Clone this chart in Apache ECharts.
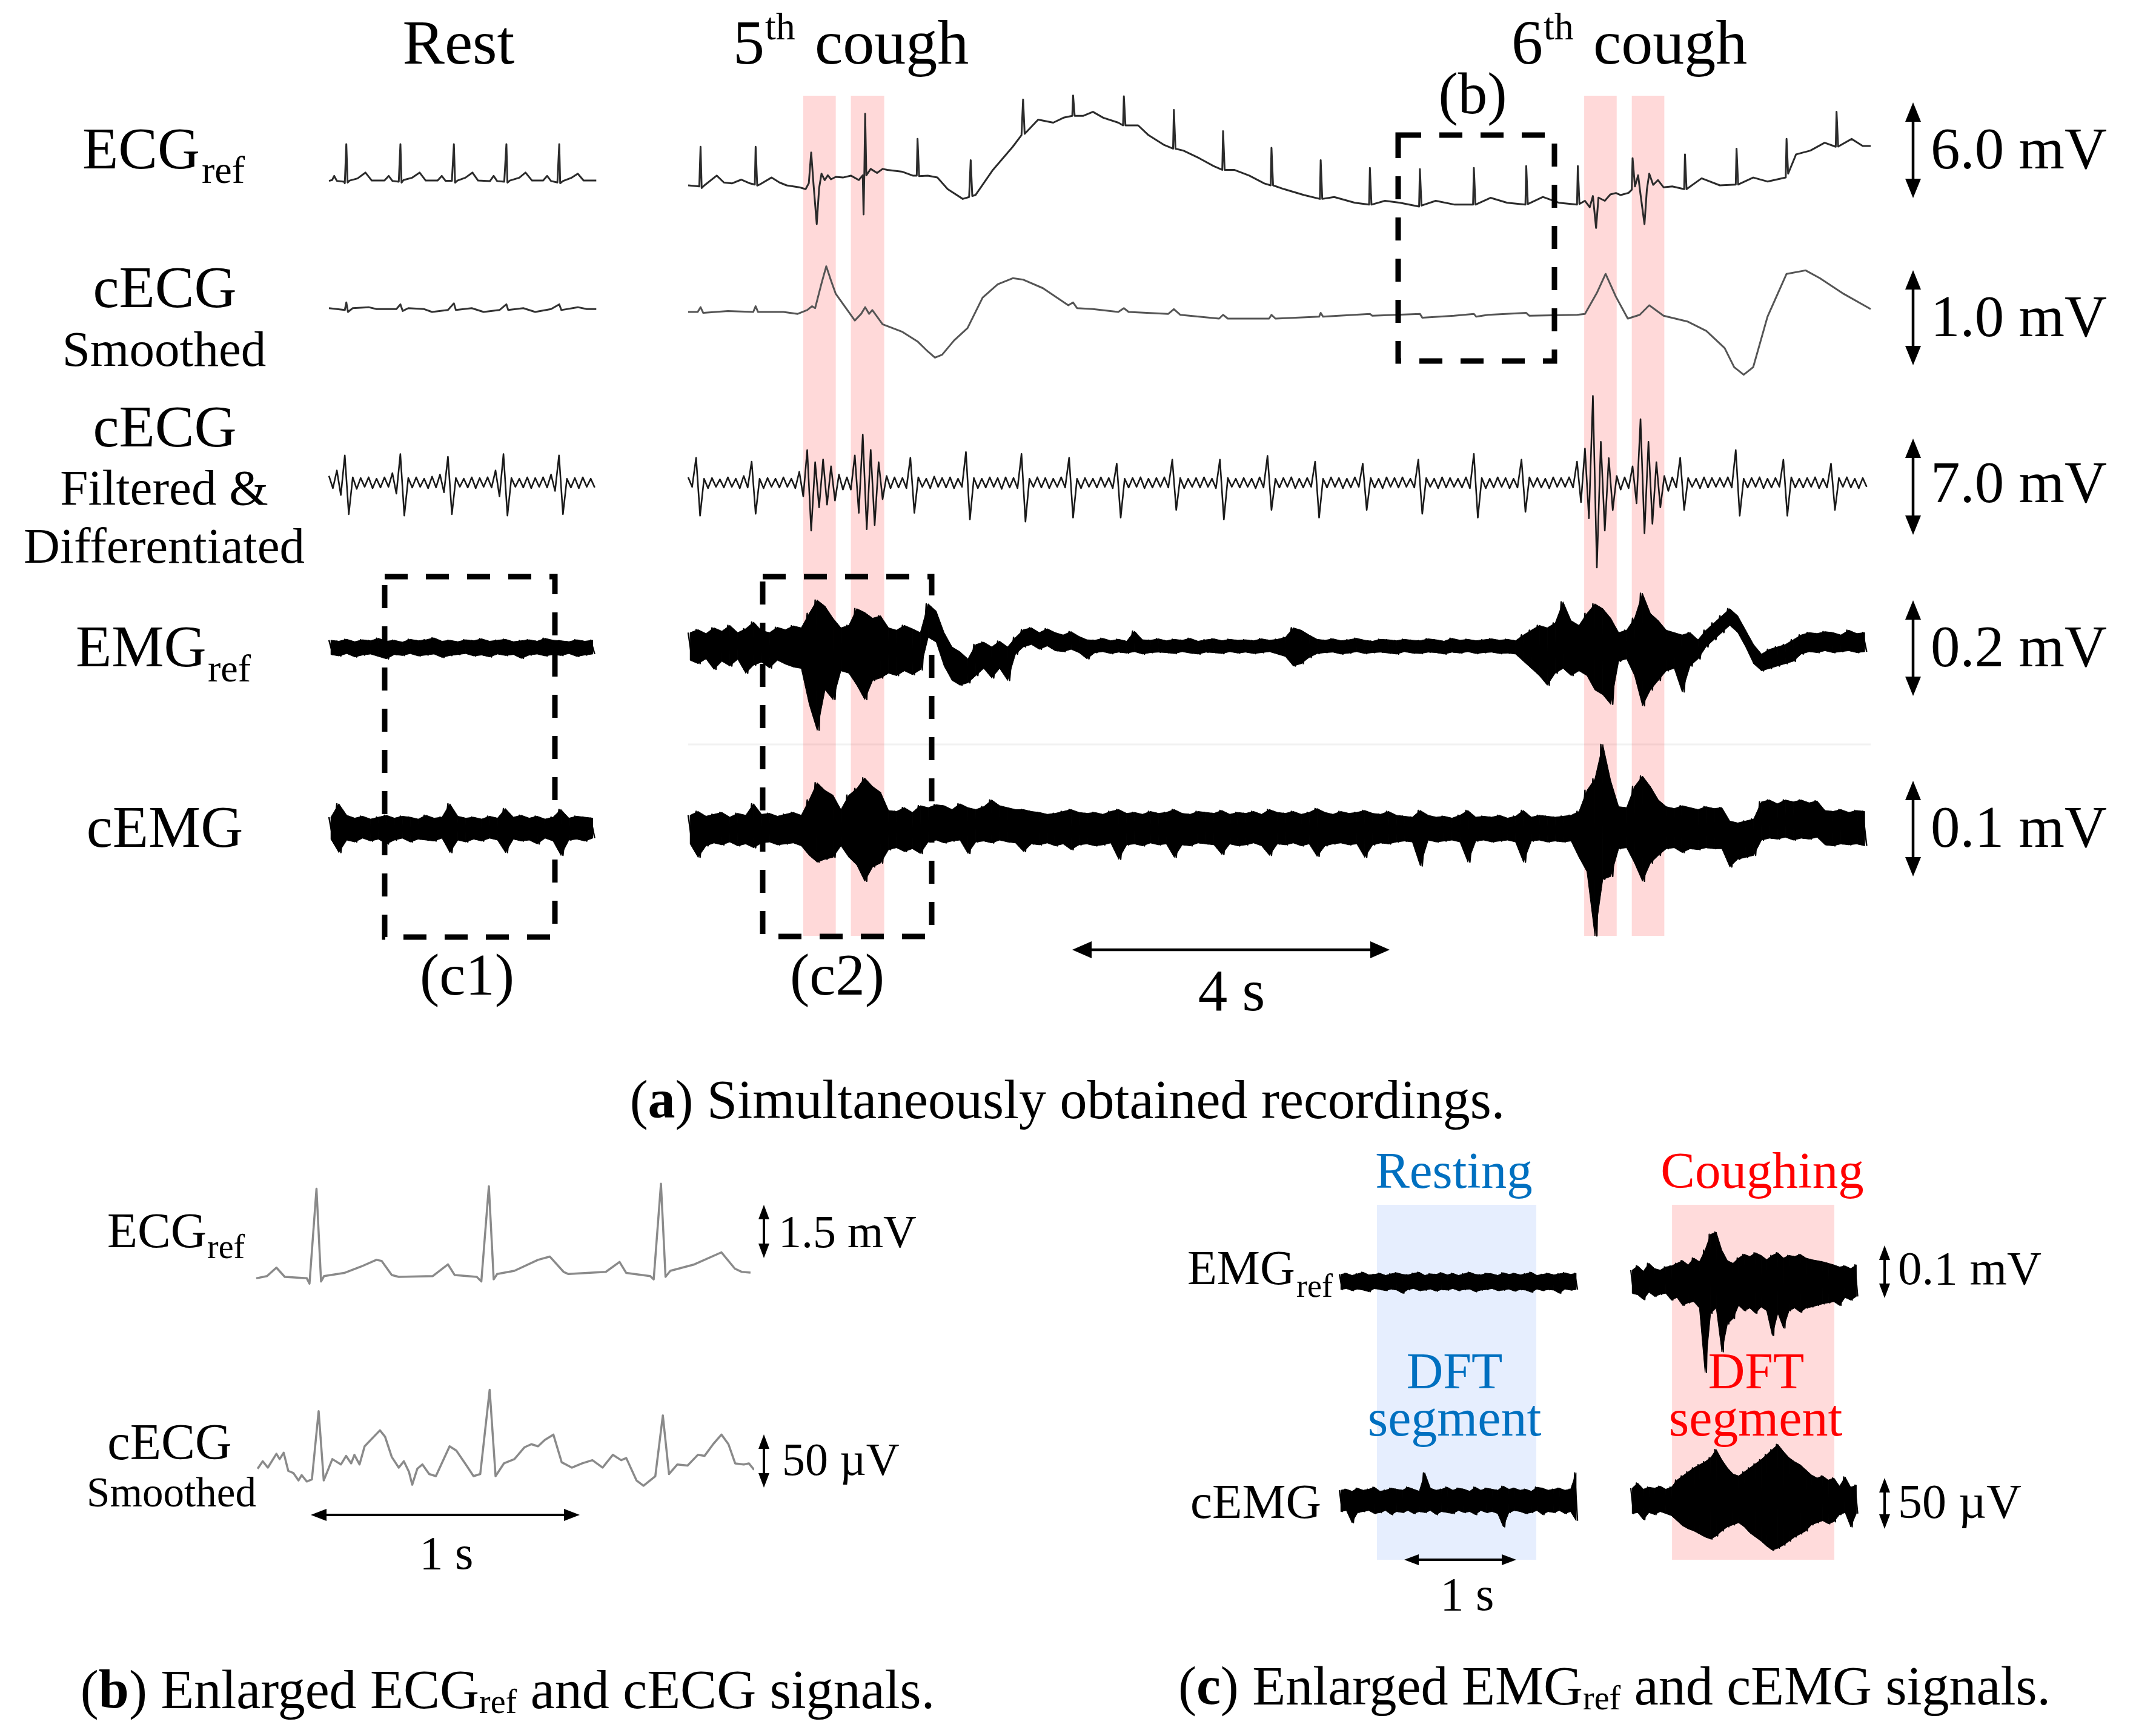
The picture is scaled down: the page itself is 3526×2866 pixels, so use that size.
<!DOCTYPE html>
<html><head><meta charset="utf-8">
<script src="https://cdn.jsdelivr.net/npm/echarts/dist/echarts.min.js"></script>
<style>html,body{margin:0;padding:0;background:#fff}#c{width:3526px;height:2866px}</style>
</head><body><div id="c"></div><script>
// ===================== DATA =====================
// Panel (a) main recording: time in s, ECG values in mV, EMG values in µV
const ecgRefMain = [[0,3.57],[0.14,3.5],[0.156,5.99],[0.17,3.4],[0.2,3.55],[0.36,4.18],[0.45,3.75],[0.55,3.69],[0.67,3.93],[0.78,3.69],[0.84,3.62],[0.85,5.99],[0.87,3.55],[0.9,3.62],[1.05,4.06],[1.15,3.75],[1.24,3.57],[1.4,3.45],[1.48,3.33],[1.52,3.7],[1.55,5.63],[1.58,3.6],[1.62,1.14],[1.65,3.4],[1.68,4.3],[1.72,3.9],[1.76,4.2],[1.8,3.95],[1.86,4.1],[1.95,4.06],[2.05,4.18],[2.15,3.9],[2.2,4.2],[2.21,1.75],[2.22,4.4],[2.23,8.06],[2.245,4.2],[2.3,4.6],[2.38,4.35],[2.45,4.6],[2.51,4.54],[2.7,4.42],[2.83,4.18],[2.88,4.18],[2.89,6.48],[2.91,4.15],[3.02,4.18],[3.14,4.06],[3.27,3.33],[3.46,2.72],[3.54,2.84],[3.56,5.15],[3.58,2.9],[3.62,2.96],[3.84,4.54],[4.09,5.99],[4.2,6.72],[4.22,8.95],[4.24,6.8],[4.41,7.69],[4.6,7.5],[4.73,7.81],[4.84,7.93],[4.85,9.2],[4.87,7.93],[4.98,7.93],[5.1,8.18],[5.23,7.81],[5.42,7.5],[5.48,7.33],[5.49,9.15],[5.51,7.33],[5.67,7.33],[5.8,6.72],[5.99,6.12],[6.11,5.87],[6.12,8.3],[6.14,5.87],[6.24,5.75],[6.44,5.27],[6.62,4.78],[6.73,4.54],[6.74,6.97],[6.76,4.54],[6.88,4.54],[7.07,4.18],[7.26,3.69],[7.34,3.57],[7.35,5.92],[7.37,3.57],[7.51,3.33],[7.76,2.96],[7.96,2.72],[7.97,5.15],[7.99,2.72],[8.14,2.84],[8.4,2.48],[8.58,2.36],[8.59,4.66],[8.61,2.36],[8.78,2.6],[8.97,2.48],[9.21,2.24],[9.22,4.59],[9.24,2.3],[9.42,2.6],[9.66,2.36],[9.89,2.36],[9.9,4.66],[9.92,2.36],[10.11,2.79],[10.32,2.48],[10.55,2.36],[10.56,4.78],[10.58,2.4],[10.77,2.84],[10.97,2.48],[11.2,2.36],[11.21,4.78],[11.23,2.4],[11.3,2.6],[11.36,2.2],[11.4,2.9],[11.44,0.9],[11.47,2.8],[11.55,2.6],[11.62,3.0],[11.69,3.09],[11.75,2.96],[11.85,3.1],[11.89,3.3],[11.9,5.27],[11.93,3.5],[11.97,4.2],[12.0,3.0],[12.05,1.14],[12.08,3.3],[12.11,4.3],[12.16,3.6],[12.22,3.9],[12.29,3.45],[12.4,3.5],[12.55,3.33],[12.56,5.51],[12.58,3.33],[12.77,4.01],[13.0,3.57],[13.2,3.62],[13.21,5.87],[13.23,3.62],[13.42,4.06],[13.6,3.81],[13.83,4.06],[13.84,6.48],[13.86,4.3],[13.96,5.51],[14.14,5.75],[14.32,6.24],[14.46,5.99],[14.47,8.18],[14.49,6.0],[14.66,6.48],[14.8,6.04],[14.9,6.04]];
const ecgRefRest = [[0,3.85],[0.04,3.9],[0.066,4.16],[0.1,3.85],[0.19,3.8],[0.2,3.7],[0.219,6.15],[0.235,3.74],[0.26,3.87],[0.36,4.0],[0.46,4.37],[0.54,3.87],[0.7,3.87],[0.753,4.16],[0.8,3.85],[0.88,3.8],[0.901,6.15],[0.915,3.74],[0.94,3.9],[1.05,4.05],[1.143,4.37],[1.22,3.87],[1.37,3.87],[1.422,4.16],[1.47,3.85],[1.55,3.85],[1.575,6.15],[1.59,3.74],[1.62,3.87],[1.72,4.05],[1.809,4.37],[1.88,3.87],[2.03,3.84],[2.076,4.16],[2.12,3.84],[2.21,3.8],[2.237,6.15],[2.25,3.74],[2.28,3.87],[2.4,4.05],[2.478,4.37],[2.56,3.87],[2.7,3.87],[2.75,4.16],[2.8,3.84],[2.88,3.75],[2.903,6.15],[2.915,3.7],[2.95,3.84],[3.06,4.05],[3.137,4.3],[3.21,3.87],[3.37,3.87]];
const cecgSmMain = [[0,0.0],[0.12,0.0],[0.156,0.05],[0.19,-0.01],[0.5,0.01],[0.82,0.0],[0.85,0.06],[0.88,0.0],[1.2,0.0],[1.38,-0.02],[1.5,0.02],[1.56,0.06],[1.6,0.04],[1.68,0.3],[1.74,0.48],[1.8,0.33],[1.86,0.19],[1.98,0.05],[2.1,-0.09],[2.18,-0.02],[2.23,0.05],[2.28,-0.02],[2.32,0.02],[2.45,-0.13],[2.7,-0.21],[2.89,-0.31],[3.0,-0.4],[3.11,-0.48],[3.2,-0.45],[3.35,-0.3],[3.52,-0.17],[3.71,0.15],[3.9,0.29],[4.09,0.355],[4.22,0.34],[4.47,0.25],[4.79,0.07],[4.85,0.1],[4.9,0.04],[5.1,0.03],[5.42,0.0],[5.49,0.04],[5.55,0.0],[6.05,-0.02],[6.12,0.03],[6.2,-0.03],[6.69,-0.07],[6.74,-0.03],[6.8,-0.07],[7.32,-0.07],[7.35,-0.03],[7.4,-0.07],[7.95,-0.05],[7.97,-0.01],[8.0,-0.05],[8.59,-0.02],[8.62,-0.04],[9.22,-0.02],[9.25,-0.06],[9.65,-0.04],[9.9,-0.02],[9.93,-0.05],[10.08,-0.03],[10.56,-0.01],[10.6,-0.04],[11.2,-0.03],[11.3,-0.02],[11.45,0.2],[11.56,0.4],[11.69,0.16],[11.84,-0.07],[11.99,-0.03],[12.11,0.07],[12.29,-0.04],[12.59,-0.1],[12.83,-0.2],[13.06,-0.38],[13.18,-0.58],[13.3,-0.66],[13.42,-0.58],[13.6,-0.05],[13.84,0.4],[14.08,0.437],[14.26,0.355],[14.56,0.19],[14.9,0.03]];
const cecgSmRest = [[0,0.04],[0.1,0.03],[0.2,0.02],[0.219,0.1],[0.24,0.0],[0.3,0.04],[0.5,0.05],[0.6,0.03],[0.85,0.03],[0.901,0.08],[0.93,0.01],[1.0,0.04],[1.2,0.03],[1.3,0.0],[1.5,0.02],[1.575,0.09],[1.6,0.02],[1.8,0.04],[1.95,0.0],[2.15,0.02],[2.237,0.08],[2.26,0.02],[2.45,0.04],[2.6,0.0],[2.8,0.03],[2.903,0.08],[2.93,0.02],[3.137,0.05],[3.25,0.03],[3.37,0.03]];
// noisy traces: upper (hi) and lower (lo) envelope per 0.1 s bin
const filtMainHi = [0.4,1.83,0.3,0.35,0.25,0.4,0.3,0.5,1.55,0.3, 0.35,0.3,0.4,0.3,0.8,2.39,1.5,1.7,1.2,0.6, 0.4,2.0,3.52,2.4,1.5,0.5,0.4,0.35,1.83,0.4, 0.3,0.45,0.35,0.4,0.3,2.25,0.35,0.3,0.4,0.35, 0.4,0.35,2.11,0.3,0.4,0.35,0.3,0.4,1.83,0.3, 0.35,0.3,0.4,0.35,1.40,0.3,0.35,0.4,0.3,0.35, 0.4,1.69,0.35,0.3,0.35,0.4,0.3,1.69,0.35,0.3, 0.35,0.3,0.4,1.97,0.3,0.35,0.4,0.3,0.35,1.55, 0.3,0.4,0.35,0.3,0.4,1.40,0.35,0.3,0.4,0.35, 0.4,0.3,1.69,0.35,0.3,0.4,0.35,0.3,0.4,2.11, 0.35,0.3,0.4,0.35,0.3,1.69,0.4,0.35,0.3,0.4, 0.35,0.4,1.55,2.5,6.35,3.0,1.8,0.5,0.4,1.2, 4.65,3.0,1.5,0.5,0.4,1.83,0.35,0.3,0.4,0.35, 0.35,0.4,2.39,0.3,0.35,0.4,0.3,0.35,1.69,0.4, 0.3,0.35,0.4,0.3,1.40,0.35,0.4,0.3,0.35];
const filtMainLo = [-0.3,-2.41,-0.4,-0.3,-0.35,-0.3,-0.4,-0.35,-2.27,-0.4, -0.3,-0.35,-0.3,-0.4,-1.0,-3.5,-1.8,-1.6,-1.3,-0.5, -0.5,-2.2,-3.4,-3.1,-1.2,-0.4,-0.35,-0.4,-2.2,-0.3, -0.4,-0.3,-0.35,-0.4,-0.3,-2.69,-0.4,-0.35,-0.3,-0.45, -0.35,-0.4,-2.84,-0.3,-0.35,-0.4,-0.3,-0.35,-2.55,-0.4, -0.3,-0.35,-0.3,-0.4,-2.55,-0.35,-0.3,-0.4,-0.35,-0.3, -0.35,-1.99,-0.4,-0.3,-0.35,-0.3,-0.4,-2.69,-0.3,-0.35, -0.3,-0.4,-0.35,-1.99,-0.35,-0.3,-0.4,-0.35,-0.3,-2.55, -0.35,-0.3,-0.4,-0.35,-0.3,-1.99,-0.35,-0.4,-0.3,-0.35, -0.3,-0.35,-2.27,-0.3,-0.4,-0.35,-0.3,-0.35,-0.4,-2.55, -0.4,-0.35,-0.3,-0.4,-0.35,-2.13,-0.3,-0.35,-0.4,-0.3, -0.3,-0.35,-1.42,-2.6,-6.2,-3.5,-2.0,-0.5,-0.4,-1.5, -3.7,-3.0,-1.8,-0.6,-0.35,-1.99,-0.3,-0.4,-0.35,-0.3, -0.3,-0.35,-2.41,-0.35,-0.3,-0.4,-0.35,-0.3,-2.41,-0.35, -0.35,-0.3,-0.4,-0.35,-1.99,-0.3,-0.35,-0.4,-0.3];
const filtRestHi = [0.5,0.9,2.0,0.4,0.35,0.4,0.3,0.4,0.7,2.1,0.35,0.4,0.3,0.45,0.6,1.9,0.35,0.3,0.4,0.35,0.4,0.9,2.1,0.35,0.3,0.4,0.35,0.4,0.6,2.0,0.3,0.35,0.4,0.3];
const filtRestLo = [-0.4,-0.9,-2.3,-0.45,-0.3,-0.4,-0.35,-0.3,-0.8,-2.4,-0.35,-0.3,-0.4,-0.35,-0.7,-2.3,-0.3,-0.35,-0.4,-0.3,-0.35,-1.0,-2.4,-0.3,-0.35,-0.4,-0.3,-0.35,-0.6,-2.3,-0.35,-0.4,-0.3,-0.35];
const emgMainHi = [30,36,28,40,33,45,30,38,52,34, 30,41,36,44,40,70,98,85,60,40, 45,80,72,60,65,40,35,45,38,30, 90,75,30,0,-10,-25,5,10,0,12, 0,20,36,40,30,38,30,25,32,22, 15,14,18,13,16,12,33,15,14,17, 13,16,14,18,12,15,17,13,16,14, 15,13,17,14,16,20,40,35,25,16, 14,17,13,15,18,14,12,16,15,13, 16,14,13,17,15,12,18,14,16,13, 15,17,14,16,13,25,35,45,40,50, 94,55,45,70,90,80,60,30,35,60, 112,70,55,35,30,25,30,15,35,50, 65,80,65,35,5,-15,-5,0,5,15, 25,30,28,32,30,25,35,28,30];
const emgMainLo = [-28,-35,-25,-47,-30,-40,-26,-55,-38,-32, -44,-28,-36,-42,-45,-120,-174,-90,-110,-50, -55,-80,-110,-70,-65,-55,-60,-50,-58,-48, 20,10,-40,-70,-80,-75,-60,-45,-65,-45, -70,-15,0,5,-5,2,-8,-10,-5,-12, -25,-12,-10,-14,-11,-13,-10,-15,-12,-11, -12,-14,-10,-13,-15,-11,-12,-14,-10,-13, -11,-14,-12,-10,-15,-20,-40,-35,-22,-14, -12,-11,-15,-13,-10,-14,-12,-11,-13,-15, -10,-13,-14,-11,-12,-15,-11,-13,-10,-14, -12,-11,-14,-13,-15,-30,-45,-60,-80,-55, -45,-60,-50,-60,-90,-100,-120,-30,-25,-60, -123,-90,-70,-50,-45,-94,-40,-25,0,15, 30,45,30,0,-35,-50,-45,-40,-35,-30, -15,-10,-12,-8,-12,-10,-8,-12,-10];
const emgRestHi = [14,12,16,11,15,13,18,12,14,10,16,13,15,19,12,14,11,15,13,17,12,14,16,11,13,15,12,18,14,13,11,15,12,14];
const emgRestLo = [-16,-19,-14,-21,-17,-15,-20,-25,-16,-18,-14,-19,-17,-15,-22,-18,-16,-14,-19,-17,-21,-15,-18,-16,-24,-17,-15,-19,-16,-18,-14,-20,-17,-15];
const cemgMainHi = [14,18,13,15,17,12,16,14,26,15, 16,13,15,17,14,30,48,40,35,20, 35,42,53,44,38,19,18,22,17,24, 22,25,24,20,26,22,20,23,30,24, 22,20,20,18,17,15,16,18,20,17, 16,17,15,18,20,16,17,15,18,16, 17,20,16,15,18,17,16,19,15,17, 16,18,15,20,17,16,18,15,17,21, 17,15,18,16,17,19,16,15,18,14, 13,12,19,14,12,13,11,14,19,12, 13,12,14,11,13,19,12,14,13,12, 13,14,18,40,52,88,50,23,22,44, 55,44,30,23,21,24,22,20,23,21, 22,8,6,8,10,28,30,26,30,28, 30,27,29,19,18,20,17,19,18];
const cemgMainLo = [-16,-30,-18,-15,-17,-14,-18,-16,-20,-15, -14,-17,-16,-15,-18,-28,-35,-32,-30,-18, -30,-38,-55,-40,-36,-22,-20,-24,-21,-26, -14,-12,-15,-13,-12,-26,-14,-13,-15,-12, -14,-15,-24,-16,-17,-15,-18,-16,-22,-17, -16,-18,-17,-15,-32,-17,-16,-18,-15,-17, -16,-30,-17,-18,-15,-16,-17,-27,-16,-18, -17,-15,-18,-28,-16,-17,-15,-18,-16,-29, -18,-16,-15,-17,-16,-30,-17,-15,-16,-14, -13,-14,-39,-12,-14,-13,-12,-14,-35,-13, -12,-14,-13,-12,-14,-35,-13,-12,-14,-13, -14,-13,-30,-45,-112,-53,-50,-21,-20,-36, -55,-36,-28,-21,-20,-25,-21,-22,-20,-21, -21,-40,-32,-30,-28,-12,-10,-11,-9,-12, -10,-11,-9,-17,-18,-16,-17,-16,-18];
const cemgRestHi = [12,26,14,11,13,10,12,14,11,13,12,10,14,11,12,26,13,11,12,10,13,11,21,12,14,11,13,10,12,20,11,13,12,11];
const cemgRestLo = [-11,-25,-12,-14,-10,-13,-11,-16,-12,-10,-14,-11,-12,-13,-10,-25,-12,-14,-11,-13,-10,-12,-25,-11,-13,-12,-16,-10,-13,-28,-12,-11,-13,-10];
const coughBands = [[1.45,1.86],[2.05,2.47],[11.29,11.70],[11.89,12.30]];

// Panel (b): time in s, ECGref in mV, cECG in µV
const bEcgRef = [[0,-0.04],[0.04,0.02],[0.075,0.26],[0.106,0.0],[0.188,-0.04],[0.198,-0.19],[0.224,2.48],[0.241,-0.13],[0.252,0.02],[0.327,0.11],[0.39,0.29],[0.447,0.48],[0.466,0.45],[0.504,0.05],[0.53,0.0],[0.656,0.02],[0.713,0.35],[0.738,0.05],[0.82,0.0],[0.837,-0.13],[0.865,2.55],[0.883,-0.07],[0.896,0.08],[0.96,0.17],[1.048,0.48],[1.092,0.57],[1.143,0.14],[1.161,0.08],[1.30,0.14],[1.351,0.42],[1.376,0.11],[1.465,0.02],[1.478,-0.07],[1.505,2.62],[1.522,0.0],[1.54,0.17],[1.629,0.35],[1.73,0.69],[1.78,0.23],[1.806,0.14],[1.838,0.12]];
const bCecg = [[0.005,3],[0.024,10],[0.043,4],[0.075,17],[0.087,12],[0.102,18],[0.119,1],[0.138,-1],[0.157,-8],[0.169,-3],[0.188,-9],[0.207,-7],[0.232,57],[0.251,-8],[0.283,12],[0.315,7],[0.334,15],[0.353,8],[0.365,16],[0.384,7],[0.403,24],[0.441,34],[0.46,39],[0.479,33],[0.504,14],[0.53,4],[0.549,10],[0.568,0],[0.58,-12],[0.599,3],[0.618,7],[0.643,-2],[0.668,-4],[0.719,24],[0.744,20],[0.782,6],[0.808,-4],[0.833,-2],[0.868,77],[0.89,-4],[0.921,8],[0.96,12],[0.997,23],[1.023,26],[1.048,24],[1.073,30],[1.105,35],[1.136,9],[1.174,4],[1.212,8],[1.25,11],[1.288,4],[1.326,16],[1.357,11],[1.376,13],[1.414,-8],[1.44,-13],[1.484,-4],[1.512,53],[1.535,-2],[1.566,7],[1.604,6],[1.642,16],[1.667,15],[1.699,26],[1.73,35],[1.756,26],[1.781,8],[1.813,7],[1.832,8],[1.851,2]];

// Panel (c): envelopes per 0.05 s bin, µV
const cRestEmgHi = [14,16,12,15,18,13,14,16,12,15,17,14,13,16,18,12,15,14,17,13,16,12,15,18,14,13,16,15,12,17,14,16,13,15,18,12,14,16,13,15,17,14,16];
const cRestEmgLo = [-15,-13,-17,-14,-16,-19,-13,-15,-17,-14,-16,-22,-15,-13,-17,-16,-14,-18,-15,-16,-13,-17,-15,-14,-19,-16,-15,-13,-17,-16,-14,-18,-15,-16,-20,-14,-17,-15,-16,-22,-14,-16,-15];
const cRestCemgHi = [10,11,9,12,10,11,13,9,10,12,11,10,13,11,9,27,12,10,11,13,10,12,11,9,13,10,12,11,10,14,11,12,10,11,9,13,12,10,11,12,10,11,27];
const cRestCemgLo = [-11,-10,-22,-12,-11,-10,-13,-12,-10,-14,-11,-12,-10,-13,-11,-12,-10,-14,-11,-12,-13,-10,-12,-11,-14,-10,-12,-11,-13,-26,-12,-10,-11,-13,-12,-10,-14,-11,-12,-10,-13,-11,-20];
const cCoughEmgHi = [22,30,20,35,25,22,28, 30,35,40,32,45,38, 60,90,94,60,40,35, 45,52,48,55,50,42, 50,55,45,50,48,52, 45,42,40,38,35,32, 28,30,25,32];
const cCoughEmgLo = [-22,-25,-34,-20,-28,-24,-22, -35,-30,-45,-40,-38,-50, -172,-60,-50,-133,-80,-70, -45,-55,-50,-60,-48,-55, -102,-60,-88,-55,-50,-58, -50,-48,-45,-42,-40,-38, -45,-30,-35,-28];
const cCoughCemgHi = [12,17,11,13,12,14,11,13, 20,24,28,32,35,38,42,50,40,32, 26,24,28, 32,36,40,45,50,55,48,42,38,35,30, 25,22,24,20,22, 14,23,13,15];
const cCoughCemgLo = [-13,-12,-19,-12,-14,-11,-13,-15, -20,-25,-28,-30,-33,-36,-38,-35,-30,-26, -24,-22,-26, -32,-36,-40,-45,-49,-47,-44,-40,-36,-33,-30, -24,-22,-20,-23,-21, -14,-12,-26,-13];
const dftRest = [0.335, 1.757];
const dftCough = [0.368, 1.816];

// ===================== BUILD =====================
const FONT = '"Liberation Serif", "Times New Roman", serif';
const grids = [], xAxes = [], yAxes = [], series = [];
function addGrid(left, width, xmax, yc, pxPerUnit, top, height) {
  const t = (top === undefined) ? yc - 200 : top;
  const h = (height === undefined) ? 400 : height;
  grids.push({left: left, top: t, width: width, height: h, show: false});
  const i = grids.length - 1;
  xAxes.push({gridIndex: i, type: 'value', min: 0, max: xmax, show: false});
  yAxes.push({gridIndex: i, type: 'value', min: (yc - (t + h)) / pxPerUnit, max: (yc - t) / pxPerUnit, show: false});
  return i;
}
// envelope -> zigzag polyline (upper value at bin start, lower value at bin middle)
function zig(hi, lo, dt) {
  const out = [];
  for (let i = 0; i < hi.length; i++) { out.push([i * dt, hi[i]]); out.push([i * dt + dt / 2, lo[i]]); }
  return out;
}
function line(gi, data, color, width) {
  series.push({type: 'line', xAxisIndex: gi, yAxisIndex: gi, data: data, symbol: 'none', showSymbol: false,
    clip: false, silent: true, animation: false, z: 2,
    lineStyle: {color: color, width: width, join: 'round'}});
}
// noisy trace: filled envelope band (custom series, one quad per bin pair) plus zigzag texture
function noisy(gi, hi, lo, dt, color, width) {
  const quads = [];
  for (let i = 0; i < hi.length - 1; i++) {
    quads.push([i * dt + dt / 4, hi[i], lo[i], (i + 1) * dt + dt / 4, hi[i + 1], lo[i + 1]]);
  }
  series.push({type: 'custom', xAxisIndex: gi, yAxisIndex: gi, data: quads, silent: true, animation: false, z: 2, clip: false,
    encode: {x: [0, 3], y: [1, 2, 4, 5]},
    renderItem: function (params, api) {
      const p1 = api.coord([api.value(0), api.value(1)]);
      const p2 = api.coord([api.value(3), api.value(4)]);
      const p3 = api.coord([api.value(3), api.value(5)]);
      const p4 = api.coord([api.value(0), api.value(2)]);
      return {type: 'polygon', silent: true, shape: {points: [p1, p2, p3, p4]}, style: {fill: color, stroke: color, lineWidth: 1}};
    }});
  line(gi, zig(hi, lo, dt), color, width);
}
function overlay(gi, bands, color) {
  series.push({type: 'line', xAxisIndex: gi, yAxisIndex: gi, data: [], symbol: 'none', silent: true, z: 10,
    markArea: {silent: true, itemStyle: {color: color}, data: bands.map(b => [{xAxis: b[0]}, {xAxis: b[1]}])}});
}

// panel (a) layout
const MAIN_L = 1136, MAIN_W = 1952, MAIN_T = 14.9;
const REST_L = 543, REST_W = 440, REST_T = 3.36;
const rows = [ // yc, px per unit
  {yc: 400, k: 158 / 6.0},     // ECGref (mV)
  {yc: 515, k: 157 / 1.0},     // cECG smoothed (mV)
  {yc: 797, k: 158 / 7.0},     // cECG filtered (mV)
  {yc: 1068, k: 158 / 200},    // EMGref (µV)
  {yc: 1368, k: 158 / 100}     // cEMG (µV)
];
let g;
g = addGrid(MAIN_L, MAIN_W, MAIN_T, rows[0].yc, rows[0].k); line(g, ecgRefMain, '#2b2b2b', 3);
g = addGrid(REST_L, REST_W, REST_T, rows[0].yc, rows[0].k); line(g, ecgRefRest, '#2b2b2b', 3);
g = addGrid(MAIN_L, MAIN_W, MAIN_T, rows[1].yc, rows[1].k); line(g, cecgSmMain, '#555', 3);
g = addGrid(REST_L, REST_W, REST_T, rows[1].yc, rows[1].k); line(g, cecgSmRest, '#333', 3);
g = addGrid(MAIN_L, MAIN_W, MAIN_T, rows[2].yc, rows[2].k); line(g, zig(filtMainHi, filtMainLo, 0.1), '#1a1a1a', 2.6);
g = addGrid(REST_L, REST_W, REST_T, rows[2].yc, rows[2].k); line(g, zig(filtRestHi, filtRestLo, 0.1), '#1a1a1a', 2.6);
g = addGrid(MAIN_L, MAIN_W, MAIN_T, rows[3].yc, rows[3].k); noisy(g, emgMainHi, emgMainLo, 0.1, '#000', 2.4);
g = addGrid(REST_L, REST_W, REST_T, rows[3].yc, rows[3].k); noisy(g, emgRestHi, emgRestLo, 0.1, '#000', 2.4);
g = addGrid(MAIN_L, MAIN_W, MAIN_T, rows[4].yc, rows[4].k); noisy(g, cemgMainHi, cemgMainLo, 0.1, '#000', 2.4);
g = addGrid(REST_L, REST_W, REST_T, rows[4].yc, rows[4].k); noisy(g, cemgRestHi, cemgRestLo, 0.1, '#000', 2.4);
g = addGrid(MAIN_L, MAIN_W, MAIN_T, 800, 1, 158, 1387); overlay(g, coughBands, 'rgba(255,0,0,0.15)');

// panel (b)
const B_L = 423, B_W = 819, B_T = 1.845;
g = addGrid(B_L, B_W, B_T, 2108, 88 / 1.5); line(g, bEcgRef, '#8a8a8a', 3.5);
g = addGrid(B_L, B_W, B_T, 2430, 88 / 50); line(g, bCecg, '#8a8a8a', 3.5);

// panel (c)
const CL_L = 2211, CL_W = 395, CL_T = 2.135, CR_L = 2692, CR_W = 383, CR_T = 2.07;
g = addGrid(CL_L, CL_W, CL_T, 2116, 87 / 100); noisy(g, cRestEmgHi, cRestEmgLo, 0.05, '#000', 2.2);
g = addGrid(CL_L, CL_W, CL_T, 2477, 84 / 50); noisy(g, cRestCemgHi, cRestCemgLo, 0.05, '#000', 2.2);
g = addGrid(CR_L, CR_W, CR_T, 2116, 87 / 100); noisy(g, cCoughEmgHi, cCoughEmgLo, 0.05, '#000', 2.2);
g = addGrid(CR_L, CR_W, CR_T, 2477, 84 / 50); noisy(g, cCoughCemgHi, cCoughCemgLo, 0.05, '#000', 2.2);
g = addGrid(CL_L, CL_W, CL_T, 2300, 1, 1989, 586); overlay(g, [dftRest], 'rgba(183,206,251,0.35)');
g = addGrid(CR_L, CR_W, CR_T, 2300, 1, 1989, 586); overlay(g, [dftCough], 'rgba(255,0,0,0.14)');

// ===================== ANNOTATIONS =====================
const gfx = [];
function T(text, x, base, size, o) {
  o = o || {};
  const al = o.align || 'center';
  const st = {text: text, fontSize: size, fontFamily: FONT, fontWeight: o.weight || 'normal', fill: o.color || '#000',
    align: al, textAlign: al, verticalAlign: 'middle', textVerticalAlign: 'middle'};
  if (o.rich) st.rich = o.rich;
  gfx.push({type: 'text', x: x, y: base - size * 0.31, z: 100, silent: true, style: st});
}
function vArrow(x, y1, y2, hw, hl, lw) {
  gfx.push({type: 'line', z: 100, silent: true, shape: {x1: x, y1: y1 + hl * 0.7, x2: x, y2: y2 - hl * 0.7}, style: {stroke: '#000', lineWidth: lw}});
  gfx.push({type: 'polygon', z: 100, silent: true, shape: {points: [[x, y1], [x - hw / 2, y1 + hl], [x + hw / 2, y1 + hl]]}, style: {fill: '#000'}});
  gfx.push({type: 'polygon', z: 100, silent: true, shape: {points: [[x, y2], [x - hw / 2, y2 - hl], [x + hw / 2, y2 - hl]]}, style: {fill: '#000'}});
}
function hArrow(x1, x2, y, hw, hl, lw) {
  gfx.push({type: 'line', z: 100, silent: true, shape: {x1: x1 + hl * 0.7, y1: y, x2: x2 - hl * 0.7, y2: y}, style: {stroke: '#000', lineWidth: lw}});
  gfx.push({type: 'polygon', z: 100, silent: true, shape: {points: [[x1, y], [x1 + hl, y - hw / 2], [x1 + hl, y + hw / 2]]}, style: {fill: '#000'}});
  gfx.push({type: 'polygon', z: 100, silent: true, shape: {points: [[x2, y], [x2 - hl, y - hw / 2], [x2 - hl, y + hw / 2]]}, style: {fill: '#000'}});
}
function dashBox(x, y, w, h) {
  gfx.push({type: 'rect', z: 100, silent: true, shape: {x: x, y: y, width: w, height: h},
    style: {fill: 'none', stroke: '#000', lineWidth: 9, lineDash: [38, 30]}});
}

// panel (a) texts
T('Rest', 757, 110, 104);
T('5', 1210, 110, 104, {align: 'left'}); T('th', 1263, 68, 64, {align: 'left'}); T('cough', 1345, 110, 104, {align: 'left'});
T('6', 2495, 110, 104, {align: 'left'}); T('th', 2548, 68, 64, {align: 'left'}); T('cough', 2630, 110, 104, {align: 'left'});
T('(b)', 2431, 192, 97);
T('ECG', 136, 283, 97, {align: 'left'}); T('ref', 333, 305, 64, {align: 'left'});
T('cECG', 272, 512, 97); T('Smoothed', 271, 608, 83);
T('cECG', 272, 742, 97); T('Filtered &', 271, 837, 83); T('Differentiated', 271, 933, 83);
T('EMG', 125, 1105, 97, {align: 'left'}); T('ref', 343, 1128, 64, {align: 'left'});
T('cEMG', 272, 1403, 97);
T('6.0 mV', 3187, 283, 97, {align: 'left'});
T('1.0 mV', 3187, 560, 97, {align: 'left'});
T('7.0 mV', 3187, 834, 97, {align: 'left'});
T('0.2 mV', 3187, 1105, 97, {align: 'left'});
T('0.1 mV', 3187, 1403, 97, {align: 'left'});
vArrow(3158, 169, 327, 26, 32, 4.5);
vArrow(3158, 446, 603, 26, 32, 4.5);
vArrow(3158, 724, 883, 26, 32, 4.5);
vArrow(3158, 991, 1149, 26, 32, 4.5);
vArrow(3158, 1289, 1447, 26, 32, 4.5);
dashBox(2308, 223, 258, 373);
dashBox(635, 952, 281, 595);
dashBox(1259, 952, 279, 594);
T('(c1)', 771, 1647, 97); T('(c2)', 1382, 1647, 97);
hArrow(1770, 2294, 1568, 28, 32, 4.5); T('4 s', 2033, 1673, 97);
gfx.push({type: 'line', z: 1, silent: true, shape: {x1: 1136, y1: 1229, x2: 3088, y2: 1229}, style: {stroke: '#f2f2f2', lineWidth: 3}});
const capRich = {b: {fontWeight: 'bold', fontSize: 90, fontFamily: FONT}, r: {fontSize: 56, fontFamily: FONT, verticalAlign: 'bottom'}};
T('({b|a}) Simultaneously obtained recordings.', 1762, 1850, 90, {rich: capRich});

// panel (b) texts
T('ECG', 177, 2063, 82, {align: 'left'}); T('ref', 342, 2080, 56, {align: 'left'});
T('cECG', 280, 2413, 84); T('Smoothed', 283, 2490, 69);
vArrow(1261, 1989, 2077, 18, 24, 4); T('1.5 mV', 1285, 2063, 76, {align: 'left'});
vArrow(1261, 2368, 2456, 18, 24, 4); T('50 \u00b5V', 1291, 2439, 76, {align: 'left'});
hArrow(513, 957, 2501, 20, 26, 4); T('1 s', 737, 2594, 78);
T('({b|b}) Enlarged ECG{r|ref} and cECG signals.', 838, 2824, 90, {rich: capRich});

// panel (c) texts
T('Resting', 2400, 1965, 85, {color: '#0070C0'});
T('Coughing', 2909, 1965, 85, {color: '#FF0000'});
T('EMG', 1960, 2124, 80, {align: 'left'}); T('ref', 2140, 2144, 54, {align: 'left'});
T('cEMG', 1965, 2510, 81, {align: 'left'});
vArrow(3111, 2056, 2143, 18, 24, 4); T('0.1 mV', 3133, 2124, 79, {align: 'left'});
vArrow(3111, 2440, 2524, 18, 24, 4); T('50 \u00b5V', 3133, 2510, 80, {align: 'left'});
T('DFT', 2401, 2296, 84, {color: '#0070C0'}); T('segment', 2401, 2374, 86, {color: '#0070C0'});
T('DFT', 2899, 2296, 84, {color: '#FF0000'}); T('segment', 2898, 2374, 86, {color: '#FF0000'});
hArrow(2318, 2503, 2575, 18, 24, 4); T('1 s', 2422, 2662, 78);
T('({b|c}) Enlarged EMG{r|ref} and cEMG signals.', 2665, 2818, 90, {rich: capRich});

const chart = echarts.init(document.getElementById('c'), null, {renderer: 'canvas'});
chart.setOption({
  animation: false, backgroundColor: '#fff',
  grid: grids, xAxis: xAxes, yAxis: yAxes, series: series, graphic: {elements: gfx}
});
</script></body></html>
